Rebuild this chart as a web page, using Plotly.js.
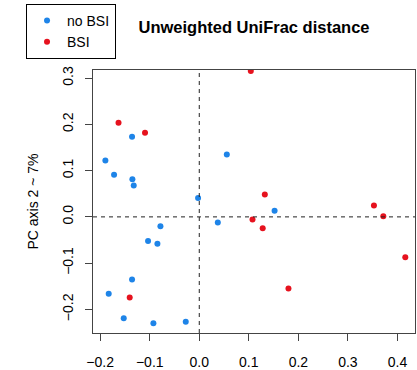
<!DOCTYPE html>
<html>
<head>
<meta charset="utf-8">
<script src="https://cdn.plot.ly/plotly-3.0.1.min.js"></script>
<style>html,body{margin:0;padding:0;background:#fff;}#chart{width:417px;height:370px;}</style>
</head>
<body>
<div id="chart"></div>
<script>
// no BSI group (blue)
const noBsiX = [-0.1357, -0.1895, -0.172, -0.135, -0.1323, -0.0024, 0.0556, 0.152, 0.0374, -0.0784, -0.1034, -0.0845, -0.1357, -0.1828, -0.1525, -0.0926, -0.0273];
const noBsiY = [0.173, 0.122, 0.091, 0.0816, 0.068, 0.041, 0.135, 0.013, -0.0121, -0.020, -0.052, -0.058, -0.1355, -0.166, -0.219, -0.230, -0.2265];
// BSI group (red)
const bsiX = [-0.163, -0.1095, 0.104, 0.1323, 0.3525, 0.1074, 0.128, 0.3714, 0.4158, 0.180, -0.1404];
const bsiY = [0.2035, 0.182, 0.3154, 0.0485, 0.0247, -0.0056, -0.0245, 0.0015, -0.087, -0.155, -0.174];
const xTicks = [-0.2, -0.1, 0.0, 0.1, 0.2, 0.3, 0.4];
const xTickText = ["\u22120.2", "\u22120.1", "0.0", "0.1", "0.2", "0.3", "0.4"];
const yTicks = [-0.2, -0.1, 0.0, 0.1, 0.2, 0.3];
const yTickText = ["\u22120.2", "\u22120.1", "0.0", "0.1", "0.2", "0.3"];

const FONT = "Liberation Sans, Arial, Helvetica, sans-serif";
const traces = [
  {x: noBsiX, y: noBsiY, name: "no BSI", type: "scatter", mode: "markers",
   marker: {color: "#1E84E8", size: 6}},
  {x: bsiX, y: bsiY, name: "BSI", type: "scatter", mode: "markers",
   marker: {color: "#E6121E", size: 6}}
];
const layout = {
  width: 417, height: 370,
  margin: {l: 93, r: 2, t: 70, b: 37},
  paper_bgcolor: "#fff", plot_bgcolor: "#fff",
  font: {family: FONT, size: 14, color: "#000"},
  title: {text: "<b>Unweighted UniFrac distance</b>", font: {size: 16.5, family: FONT, color: "#000"},
          x: 0.5, xref: "paper", y: 1 - 27/370, yref: "container", yanchor: "middle"},
  xaxis: {range: [-0.2145, 0.4354], tickvals: xTicks, ticktext: xTickText,
          showgrid: false, zeroline: false, showline: true, mirror: true, linecolor: "#444", linewidth: 1,
          ticks: "outside", ticklen: 7, tickcolor: "#444", tickfont: {size: 14}, ticklabelstandoff: 9},
  yaxis: {range: [-0.251, 0.3175], tickvals: yTicks, ticktext: yTickText, tickangle: -90,
          showgrid: false, zeroline: false, showline: true, mirror: true, linecolor: "#444", linewidth: 1,
          ticks: "outside", ticklen: 7, tickcolor: "#444", tickfont: {size: 14}, ticklabelstandoff: 6,
          title: {text: "PC axis 2 ~ 7%", font: {size: 14}, standoff: 18}},
  showlegend: true,
  legend: {x: -0.208, y: 1.251, xanchor: "left", yanchor: "top", bordercolor: "#000", borderwidth: 1,
           bgcolor: "#fff", font: {size: 14}, itemwidth: 30, tracegroupgap: 0},
  shapes: [
    {type: "line", xref: "x", yref: "paper", x0: 0, x1: 0, y0: 0, y1: 1, line: {color: "#222", width: 1, dash: "4px,4px"}},
    {type: "line", xref: "paper", yref: "y", x0: 0, x1: 1, y0: 0, y1: 0, line: {color: "#222", width: 1, dash: "4px,4px"}}
  ]
};
Plotly.newPlot("chart", traces, layout, {displayModeBar: false, staticPlot: true});
</script>
</body>
</html>
